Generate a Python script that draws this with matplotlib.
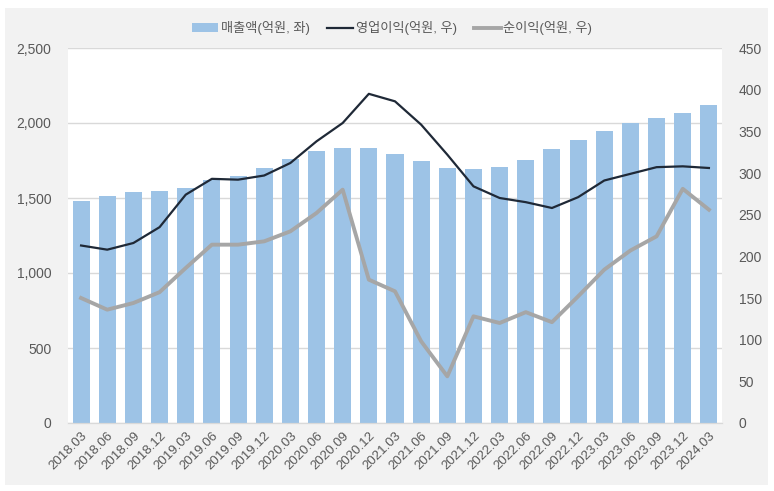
import matplotlib.pyplot as plt
from matplotlib.patches import Rectangle
from matplotlib.ticker import FuncFormatter

plt.rcParams['font.family'] = ['Liberation Sans', 'Noto Sans CJK KR', 'DejaVu Sans']

quarters = ['2018.03', '2018.06', '2018.09', '2018.12', '2019.03', '2019.06', '2019.09', '2019.12',
            '2020.03', '2020.06', '2020.09', '2020.12', '2021.03', '2021.06', '2021.09', '2021.12',
            '2022.03', '2022.06', '2022.09', '2022.12', '2023.03', '2023.06', '2023.09', '2023.12',
            '2024.03']
sales = [1480, 1513, 1540, 1547, 1567, 1620, 1647, 1700, 1760, 1813, 1833, 1833, 1793, 1747,
         1700, 1693, 1707, 1753, 1827, 1887, 1947, 2000, 2033, 2067, 2120]
op_profit = [213, 208, 216, 235, 274, 293, 292, 297, 312, 338, 360, 395, 386, 358, 322, 284,
             270, 265, 258, 271, 291, 299, 307, 308, 306]
net_profit = [150, 136, 144, 157, 186, 214, 214, 218, 230, 252, 280, 172, 158, 98, 56, 128,
              120, 133, 121, 152, 184, 207, 224, 281, 256]

fig = plt.figure(figsize=(7.74, 4.91), dpi=100)
fig.patches.append(Rectangle((5 / 774, 6 / 491), 763 / 774, 477 / 491, transform=fig.transFigure,
                             facecolor='#f2f2f2', edgecolor='none', zorder=-1))

ax = fig.add_axes([68 / 774, 68 / 491, 654 / 774, 375 / 491])
ax2 = ax.twinx()

x = list(range(len(quarters)))
ax.bar(x, sales, width=0.65, color='#9dc3e6', label='매출액(억원, 좌)', zorder=2)
ax2.plot(x, op_profit, color='#1f2937', lw=1.6, label='영업이익(억원, 우)')
ax2.plot(x, net_profit, color='#a6a6a6', lw=2.8, label='순이익(억원, 우)')

ax.set_xlim(-0.5, len(quarters) - 0.5)
ax.set_ylim(0, 2500)
ax.set_yticks(range(0, 2501, 500))
ax.yaxis.set_major_formatter(FuncFormatter(lambda v, p: f'{int(v):,}'))
ax2.set_ylim(0, 450)
ax2.set_yticks(range(0, 451, 50))

ax.grid(axis='y', color='#d9d9d9', lw=1, zorder=0)
ax.set_axisbelow(True)
for a in (ax, ax2):
    for s in ('top', 'left', 'right'):
        a.spines[s].set_visible(False)
    a.spines['bottom'].set_color('#d9d9d9')
    a.tick_params(length=0, colors='#595959', labelsize=10)
ax.tick_params(axis='y', pad=12)
ax2.tick_params(axis='y', pad=12)

ax.set_xticks(x)
ax.set_xticklabels(quarters, rotation=45, ha='right', rotation_mode='anchor', fontsize=9.5)
ax.tick_params(axis='x', pad=5)

h1, l1 = ax.get_legend_handles_labels()
h2, l2 = ax2.get_legend_handles_labels()
fig.legend(h1 + h2, l1 + l2, loc='center', bbox_to_anchor=(392 / 774, 1 - 28 / 491), ncol=3,
           frameon=False, fontsize=9.5, labelcolor='#595959', handlelength=2.0, handleheight=0.6,
           columnspacing=1.3, handletextpad=0.2)

fig.savefig('out.png', dpi=100, facecolor='white')
